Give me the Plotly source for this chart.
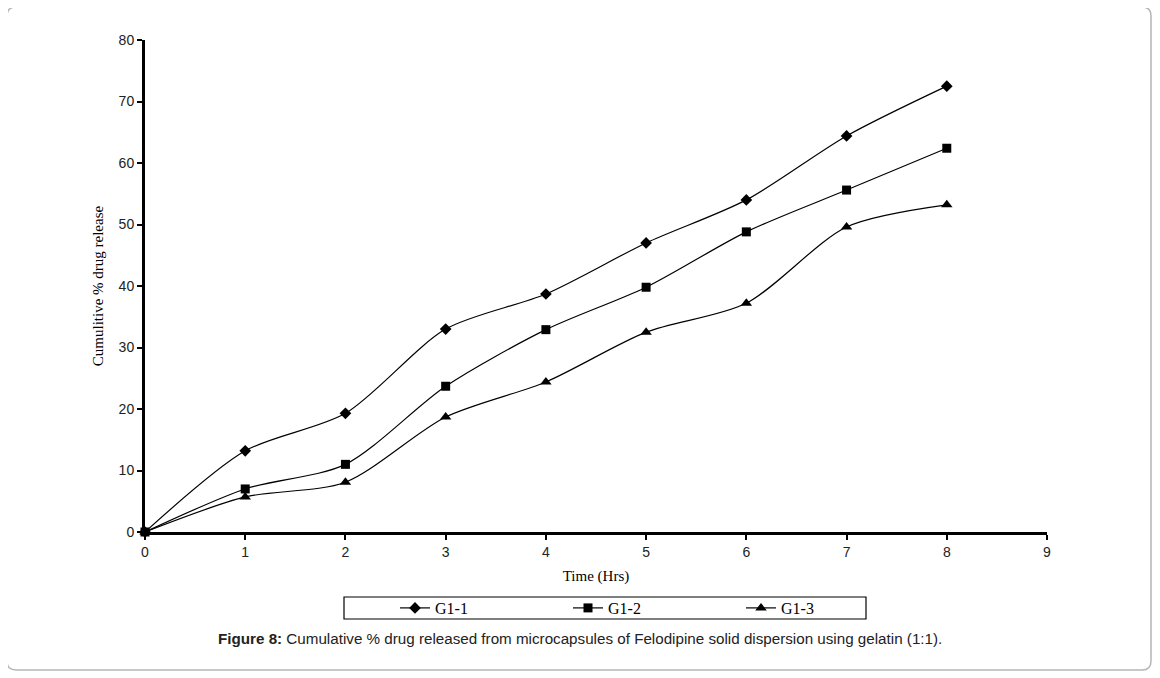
import plotly.graph_objects as go

time_hrs = [0, 1, 2, 3, 4, 5, 6, 7, 8]
g1_1 = [0, 13.2, 19.3, 33.0, 38.7, 47.0, 54.0, 64.4, 72.5]
g1_2 = [0, 7.0, 11.0, 23.7, 32.9, 39.8, 48.8, 55.6, 62.4]
g1_3 = [0, 5.7, 8.1, 18.7, 24.4, 32.5, 37.2, 49.6, 53.2]
series_names = ["G1-1", "G1-2", "G1-3"]
x_ticks = [0, 1, 2, 3, 4, 5, 6, 7, 8, 9]
y_ticks = [0, 10, 20, 30, 40, 50, 60, 70, 80]

OFF = 8  # page body margin
W, H = 1152, 670
L, R, T, B = 145 - OFF, 1047 - OFF, 40 - OFF, 532 - OFF

def px_x(p):  # page pixel -> paper
    return (p - OFF - L) / (R - L)

def px_y(p):
    return (B - (p - OFF)) / (B - T)

fig = go.Figure()
symbols = ["diamond", "square", "triangle-up"]
sizes = [9, 9, 10]
for name, ys, sym, sz in zip(series_names, [g1_1, g1_2, g1_3], symbols, sizes):
    fig.add_trace(go.Scatter(
        x=time_hrs, y=ys, name=name, mode="lines+markers",
        line=dict(color="black", width=1.2, shape="spline", smoothing=0.8),
        marker=dict(symbol=sym, size=sz, color="black"),
        cliponaxis=False,
    ))

# rounded outer border
x0, y0, x1, y1, r = 7, 7, 1151, 670, 9
def P(x, y):
    return f"{px_x(x):.5f},{px_y(y):.5f}"
path = (f"M {P(x0 + r, y0)} L {P(x1 - r, y0)} Q {P(x1, y0)} {P(x1, y0 + r)} "
        f"L {P(x1, y1 - r)} Q {P(x1, y1)} {P(x1 - r, y1)} "
        f"L {P(x0 + r, y1)} Q {P(x0, y1)} {P(x0, y1 - r)} "
        f"L {P(x0, y0 + r)} Q {P(x0, y0)} {P(x0 + r, y0)} Z")
fig.add_shape(type="path", path=path, xref="paper", yref="paper",
              line=dict(color="#b5b5b5", width=1.5), layer="below")

# legend frame
fig.add_shape(type="rect", xref="paper", yref="paper",
              x0=px_x(344), x1=px_x(866), y0=px_y(597), y1=px_y(619),
              line=dict(color="black", width=1.2), fillcolor="rgba(0,0,0,0)")

fig.add_annotation(
    text="<b>Figure 8:</b> Cumulative % drug released from microcapsules of Felodipine solid dispersion using gelatin (1:1).",
    xref="paper", yref="paper", x=px_x(216), y=px_y(638), showarrow=False,
    font=dict(family="Arial, Liberation Sans", size=15.2, color="#222"),
    xanchor="left", yanchor="middle")

fig.update_layout(
    width=W, height=H,
    margin=dict(l=L, r=W - R, t=T, b=H - B),
    paper_bgcolor="white", plot_bgcolor="white",
    showlegend=True,
    legend=dict(orientation="h", x=px_x(395), y=px_y(608), xanchor="left", yanchor="middle",
                bgcolor="rgba(0,0,0,0)", borderwidth=0,
                font=dict(family="Liberation Serif, Times New Roman", size=16, color="black"),
                entrywidth=128, entrywidthmode="pixels", itemwidth=30,
                tracegroupgap=0),
    xaxis=dict(range=[0, 9], tickvals=x_ticks, showline=True, linecolor="black", linewidth=3,
               ticks="outside", ticklen=5, tickwidth=2, tickcolor="black",
               showgrid=False, zeroline=False,
               tickfont=dict(family="Arial, Liberation Sans", size=14, color="#222"),
               title=dict(text="Time (Hrs)", standoff=12,
                          font=dict(family="Liberation Serif, Times New Roman", size=15, color="black"))),
    yaxis=dict(range=[0, 80], tickvals=y_ticks, showline=True, linecolor="black", linewidth=3,
               ticks="outside", ticklen=5, tickwidth=2, tickcolor="black",
               showgrid=False, zeroline=False,
               tickfont=dict(family="Arial, Liberation Sans", size=14, color="#222"),
               title=dict(text="Cumulitive % drug release", standoff=12,
                          font=dict(family="Liberation Serif, Times New Roman", size=15, color="black"))),
)

fig.write_html("out.html")
